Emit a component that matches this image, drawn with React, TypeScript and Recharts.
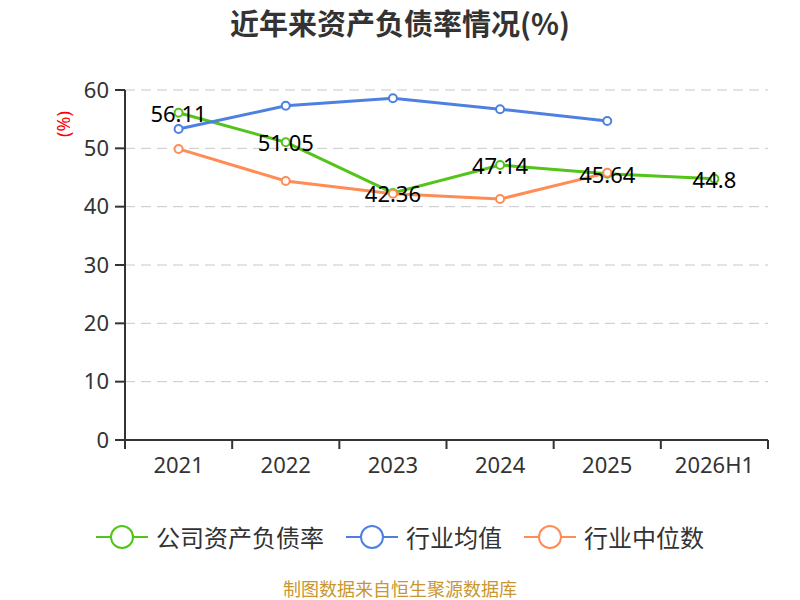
import { LineChart, Line, XAxis, YAxis, CartesianGrid, LabelList } from 'recharts';

const categories = ['2021', '2022', '2023', '2024', '2025', '2026H1'];
const companyRatio = [56.11, 51.05, 42.36, 47.14, 45.64, 44.8];
const industryMean = [53.3, 57.3, 58.6, 56.7, 54.7, null];
const industryMedian = [49.9, 44.4, 42.2, 41.3, 45.8, null];
const yTicks = [0, 10, 20, 30, 40, 50, 60];

const series = [
  { key: 'company', name: '公司资产负债率', color: '#52c41a' },
  { key: 'mean', name: '行业均值', color: '#4e80e2' },
  { key: 'median', name: '行业中位数', color: '#ff8c55' },
];

const data = categories.map((c, i) => ({
  year: c,
  company: companyRatio[i],
  mean: industryMean[i],
  median: industryMedian[i],
}));

const W = 800;
const H = 600;
const margin = { top: 90, right: 32, bottom: 120, left: 0 };
const Y_AXIS_W = 125;
const X_AXIS_H = 40;
const plotW = W - margin.right - Y_AXIS_W - margin.left;
const plotBottom = H - margin.bottom - X_AXIS_H;
const band = plotW / categories.length;
const FONT = '"Noto Sans CJK SC", "Noto Sans", sans-serif';
const NUM_FONT = '"Noto Sans", "Noto Sans CJK SC", sans-serif';

// boundary ticks like echarts boundaryGap
const XTick = ({ x, payload, index }: any) => {
  const left = x - band / 2;
  const right = x + band / 2;
  return (
    <g>
      <line x1={left} y1={plotBottom} x2={left} y2={plotBottom + 9} stroke="#333" strokeWidth={2} />
      {index === categories.length - 1 && (
        <line x1={right} y1={plotBottom} x2={right} y2={plotBottom + 9} stroke="#333" strokeWidth={2} />
      )}
      <text x={x} y={plotBottom + 33} textAnchor="middle" fontSize={22} fill="#333" fontFamily={NUM_FONT}>
        {payload.value}
      </text>
    </g>
  );
};

const ValueLabel = ({ x, y, value }: any) => {
  if (value == null) return null;
  return (
    <text x={x} y={y} textAnchor="middle" dominantBaseline="central" fontSize={22} fill="#000" fontFamily={NUM_FONT}>
      {value}
    </text>
  );
};

const LegendIcon = ({ color }: { color: string }) => (
  <svg width={52} height={26}>
    <line x1={0} y1={13} x2={52} y2={13} stroke={color} strokeWidth={2} />
    <circle cx={26} cy={13} r={11} fill="#fff" stroke={color} strokeWidth={2} />
  </svg>
);

export default function App() {
  return (
    <div style={{ position: 'absolute', left: 0, top: 0, width: W, height: H, background: '#fff', fontFamily: FONT, overflow: 'hidden' }}>
      <div style={{ position: 'absolute', top: 1, left: 0, width: W, textAlign: 'center', fontSize: 29, fontWeight: 'bold', color: '#333' }}>
        近年来资产负债率情况(%)
      </div>
      <LineChart width={W} height={H} data={data} margin={margin}>
        <CartesianGrid vertical={false} stroke="#c8c8c8" strokeDasharray="10 6" />
        <XAxis
          dataKey="year"
          height={X_AXIS_H}
          padding={{ left: band / 2, right: band / 2 }}
          axisLine={{ stroke: '#333', strokeWidth: 2 }}
          tickLine={false}
          tick={<XTick />}
          interval={0}
        />
        <YAxis
          width={Y_AXIS_W}
          domain={[0, 60]}
          ticks={yTicks}
          axisLine={{ stroke: '#333', strokeWidth: 2 }}
          tickLine={{ stroke: '#333', strokeWidth: 2 }}
          tickSize={10}
          tickMargin={6}
          tick={{ fontSize: 22, fill: '#333', fontFamily: NUM_FONT }}
        />
        {series.map((s) => (
          <Line
            key={s.key}
            type="linear"
            dataKey={s.key}
            name={s.name}
            stroke={s.color}
            strokeWidth={3}
            dot={{ r: 4, fill: '#fff', stroke: s.color, strokeWidth: 2 }}
            isAnimationActive={false}
            connectNulls={false}
          >
            {s.key === 'company' && <LabelList dataKey="company" content={<ValueLabel />} />}
          </Line>
        ))}
      </LineChart>
      <div style={{ position: 'absolute', left: 48, top: 114, width: 30, textAlign: 'center', transform: 'rotate(-90deg)', color: 'red', fontSize: 18, fontFamily: NUM_FONT, lineHeight: '20px' }}>
        (%)
      </div>
      <div style={{ position: 'absolute', top: 523, left: 0, width: W, display: 'flex', justifyContent: 'center', gap: 22 }}>
        {series.map((s) => (
          <div key={s.key} style={{ display: 'flex', alignItems: 'center', gap: 8 }}>
            <LegendIcon color={s.color} />
            <span style={{ fontSize: 24, color: '#333', lineHeight: '28px' }}>{s.name}</span>
          </div>
        ))}
      </div>
      <div style={{ position: 'absolute', top: 576, left: 0, width: W, textAlign: 'center', fontSize: 18, lineHeight: '24px', color: '#c9962f' }}>
        制图数据来自恒生聚源数据库
      </div>
    </div>
  );
}
